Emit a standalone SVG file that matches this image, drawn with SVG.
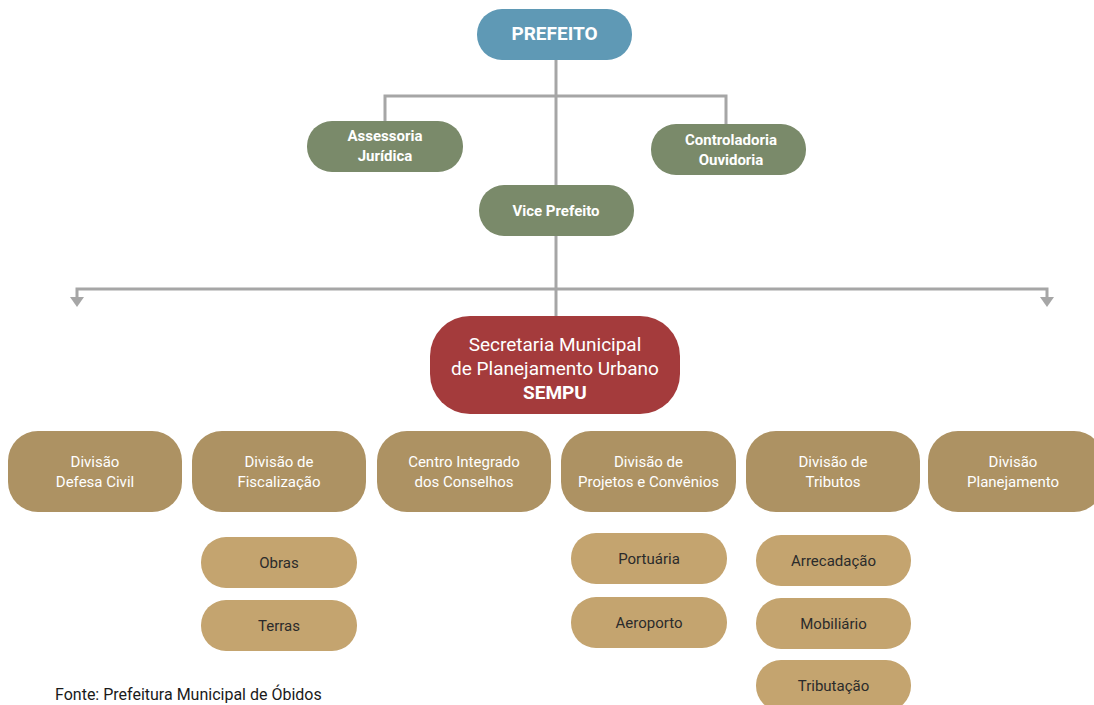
<svg xmlns="http://www.w3.org/2000/svg" width="1094" height="705" viewBox="0 0 1094 705">
  <defs>
    <style>
      text { font-family: Roboto, "Liberation Sans", sans-serif; text-anchor: middle; }
      .lbl-w { fill: #ffffff; font-size: 15px; }
      .lbl-b { fill: #ffffff; font-size: 15px; font-weight: bold; }
      .lbl-d { fill: #2b2b2b; font-size: 15px; }
      .blue { fill: #5F99B5; }
      .green { fill: #7A8A6A; }
      .red { fill: #A43B3C; }
      .gold { fill: #AD9263; }
      .sand { fill: #C4A46F; }
      .wire { stroke: #A6A6A6; stroke-width: 3; fill: none; }
      .tip { fill: #A6A6A6; }
    </style>
  </defs>
  <rect width="1094" height="705" fill="#ffffff"/>

  <!-- connectors -->
  <g id="connectors">
    <path class="wire" d="M556,60 V316"/>
    <path class="wire" d="M385,121 V96 H726 V124"/>
    <path class="wire" d="M556,289 H77 V297"/>
    <path class="wire" d="M556,289 H1047 V297"/>
    <path class="tip" d="M70,297 L84,297 L77,307 Z"/>
    <path class="tip" d="M1040,297 L1054,297 L1047,307 Z"/>
  </g>

  <g id="prefeito">
    <rect class="blue" x="477" y="9" width="155" height="51" rx="25"/>
    <text class="lbl-b" x="554.5" y="40" style="font-size:19px">PREFEITO</text>
  </g>

  <g id="assessoria">
    <rect class="green" x="307" y="121" width="156" height="51" rx="25"/>
    <text class="lbl-b" x="385" y="141">Assessoria</text>
    <text class="lbl-b" x="385" y="161">Jurídica</text>
  </g>

  <g id="controladoria">
    <rect class="green" x="651" y="124" width="155" height="51" rx="25"/>
    <text class="lbl-b" x="731" y="145">Controladoria</text>
    <text class="lbl-b" x="731" y="165">Ouvidoria</text>
  </g>

  <g id="vice-prefeito">
    <rect class="green" x="479" y="185" width="155" height="51" rx="25"/>
    <text class="lbl-b" x="556" y="216">Vice Prefeito</text>
  </g>

  <g id="sempu">
    <rect class="red" x="430" y="316" width="250" height="98" rx="40"/>
    <text class="lbl-w" x="555" y="351" style="font-size:19px">Secretaria Municipal</text>
    <text class="lbl-w" x="555" y="375" style="font-size:19px">de Planejamento Urbano</text>
    <text class="lbl-b" x="555" y="399" style="font-size:19px">SEMPU</text>
  </g>

  <g id="div-defesa-civil">
    <rect class="gold" x="8" y="431" width="174" height="81" rx="30"/>
    <text class="lbl-w" x="95" y="467">Divisão</text>
    <text class="lbl-w" x="95" y="487">Defesa Civil</text>
  </g>

  <g id="div-fiscalizacao">
    <rect class="gold" x="192" y="431" width="174" height="81" rx="30"/>
    <text class="lbl-w" x="279" y="467">Divisão de</text>
    <text class="lbl-w" x="279" y="487">Fiscalização</text>
  </g>

  <g id="centro-integrado">
    <rect class="gold" x="377" y="431" width="174" height="81" rx="30"/>
    <text class="lbl-w" x="464" y="467">Centro Integrado</text>
    <text class="lbl-w" x="464" y="487">dos Conselhos</text>
  </g>

  <g id="div-projetos">
    <rect class="gold" x="561" y="431" width="175" height="81" rx="30"/>
    <text class="lbl-w" x="648.5" y="467">Divisão de</text>
    <text class="lbl-w" x="648.5" y="487">Projetos e Convênios</text>
  </g>

  <g id="div-tributos">
    <rect class="gold" x="746" y="431" width="174" height="81" rx="30"/>
    <text class="lbl-w" x="833" y="467">Divisão de</text>
    <text class="lbl-w" x="833" y="487">Tributos</text>
  </g>

  <g id="div-planejamento">
    <rect class="gold" x="928" y="431" width="176" height="81" rx="30"/>
    <text class="lbl-w" x="1013" y="467">Divisão</text>
    <text class="lbl-w" x="1013" y="487">Planejamento</text>
  </g>

  <g id="obras">
    <rect class="sand" x="201" y="537" width="156" height="51" rx="25"/>
    <text class="lbl-d" x="279" y="568">Obras</text>
  </g>

  <g id="terras">
    <rect class="sand" x="201" y="600" width="156" height="51" rx="25"/>
    <text class="lbl-d" x="279" y="631">Terras</text>
  </g>

  <g id="portuaria">
    <rect class="sand" x="571" y="533" width="156" height="51" rx="25"/>
    <text class="lbl-d" x="649" y="564">Portuária</text>
  </g>

  <g id="aeroporto">
    <rect class="sand" x="571" y="597" width="156" height="51" rx="25"/>
    <text class="lbl-d" x="649" y="628">Aeroporto</text>
  </g>

  <g id="arrecadacao">
    <rect class="sand" x="756" y="535" width="155" height="51" rx="25"/>
    <text class="lbl-d" x="833.5" y="566">Arrecadação</text>
  </g>

  <g id="mobiliario">
    <rect class="sand" x="756" y="598" width="155" height="51" rx="25"/>
    <text class="lbl-d" x="833.5" y="629">Mobiliário</text>
  </g>

  <g id="tributacao">
    <rect class="sand" x="756" y="660" width="155" height="51" rx="25"/>
    <text class="lbl-d" x="833.5" y="691">Tributação</text>
  </g>

  <text x="55" y="700" style="text-anchor:start; font-size:16px; fill:#1a1a1a">Fonte: Prefeitura Municipal de Óbidos</text>
</svg>
